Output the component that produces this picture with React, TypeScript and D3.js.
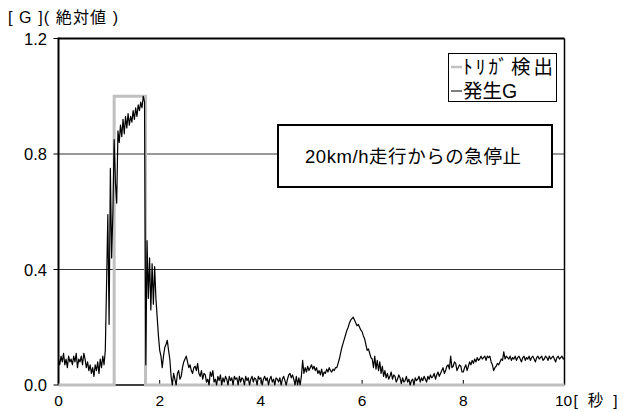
import React from "react";
import * as d3 from "d3";

// Sampling interval of the measured acceleration series (seconds)
const SAMPLE_STEP = 0.025;

// 発生G : measured acceleration magnitude [G], one value per SAMPLE_STEP from 0 to 10 s
const generatedG: number[] = [
  // 0.0 - 0.475
  0.09, 0.07, 0.10, 0.08, 0.11, 0.07, 0.09, 0.06, 0.10, 0.08, 0.09, 0.07, 0.10, 0.08, 0.11, 0.06, 0.09, 0.08, 0.10, 0.07,
  // 0.5 - 0.975
  0.11, 0.09, 0.06, 0.08, 0.05, 0.07, 0.04, 0.06, 0.03, 0.07, 0.05, 0.08, 0.04, 0.09, 0.06, 0.10, 0.07, 0.12, 0.35, 0.59,
  // 1.0 - 1.475
  0.21, 0.75, 0.44, 0.60, 0.85, 0.70, 0.63, 0.88, 0.84, 0.90, 0.86, 0.92, 0.87, 0.93, 0.89, 0.94, 0.90, 0.93, 0.91, 0.95,
  // 1.5 - 1.975
  0.92, 0.96, 0.93, 0.97, 0.95, 0.98, 0.96, 1.00, 0.98, 0.07, 0.50, 0.30, 0.44, 0.26, 0.42, 0.28, 0.41, 0.30, 0.235, 0.17,
  // 2.0 - 2.475
  0.12, 0.10, 0.06, 0.10, 0.13, 0.14, 0.155, 0.12, 0.09, 0.03, 0.00, 0.04, 0.02, 0.00, 0.04, 0.05, 0.02, 0.03, 0.06, 0.08,
  // 2.5 - 2.975
  0.09, 0.10, 0.08, 0.06, 0.07, 0.05, 0.04, 0.06, 0.065, 0.05, 0.075, 0.04, 0.03, 0.05, 0.02, 0.04, 0.035, 0.01, 0.02, 0.00,
  // 3.0 - 3.475
  0.045, 0.03, 0.05, 0.01, 0.02, 0.00, 0.03, 0.015, 0.035, 0.00, 0.025, 0.01, 0.03, 0.02, 0.00, 0.03, 0.015, 0.025, 0.00, 0.03,
  // 3.5 - 3.975
  0.02, 0.025, 0.00, 0.03, 0.01, 0.025, 0.02, 0.00, 0.03, 0.015, 0.025, 0.00, 0.02, 0.03, 0.01, 0.025, 0.02, 0.00, 0.03, 0.02,
  // 4.0 - 4.475
  0.025, 0.00, 0.02, 0.03, 0.015, 0.025, 0.00, 0.02, 0.03, 0.01, 0.02, 0.00, 0.025, 0.02, 0.01, 0.025, 0.00, 0.02, 0.03, 0.015,
  // 4.5 - 4.975
  0.00, 0.02, 0.035, 0.04, 0.025, 0.035, 0.02, 0.00, 0.03, 0.00, 0.025, 0.00, 0.03, 0.085, 0.04, 0.06, 0.045, 0.065, 0.05, 0.06,
  // 5.0 - 5.475
  0.07, 0.055, 0.065, 0.05, 0.06, 0.04, 0.05, 0.035, 0.055, 0.03, 0.045, 0.04, 0.055, 0.045, 0.06, 0.05, 0.045, 0.055, 0.05, 0.06,
  // 5.5 - 5.975
  0.06, 0.075, 0.09, 0.11, 0.13, 0.145, 0.16, 0.175, 0.19, 0.20, 0.215, 0.225, 0.23, 0.235, 0.225, 0.215, 0.205, 0.21, 0.20, 0.19,
  // 6.0 - 6.475
  0.185, 0.17, 0.16, 0.14, 0.12, 0.125, 0.11, 0.095, 0.09, 0.06, 0.10, 0.055, 0.085, 0.05, 0.08, 0.04, 0.065, 0.03, 0.05, 0.025,
  // 6.5 - 6.975
  0.04, 0.02, 0.03, 0.045, 0.02, 0.035, 0.03, 0.01, 0.02, 0.035, 0.025, 0.005, 0.025, 0.01, 0.015, 0.03, 0.01, 0.02, 0.00, 0.015,
  // 7.0 - 7.475
  0.02, 0.00, 0.025, 0.015, 0.02, 0.03, 0.01, 0.025, 0.015, 0.03, 0.02, 0.01, 0.03, 0.02, 0.035, 0.025, 0.03, 0.04, 0.02, 0.035,
  // 7.5 - 7.975
  0.045, 0.03, 0.04, 0.05, 0.06, 0.04, 0.05, 0.065, 0.07, 0.055, 0.10, 0.06, 0.065, 0.08, 0.075, 0.05, 0.06, 0.07, 0.065, 0.045,
  // 8.0 - 8.475
  0.045, 0.06, 0.07, 0.05, 0.065, 0.08, 0.07, 0.085, 0.075, 0.09, 0.08, 0.095, 0.085, 0.09, 0.10, 0.09, 0.095, 0.10, 0.085, 0.10,
  // 8.5 - 8.975
  0.095, 0.10, 0.08, 0.07, 0.05, 0.06, 0.065, 0.075, 0.07, 0.08, 0.09, 0.085, 0.115, 0.09, 0.10, 0.095, 0.09, 0.10, 0.085, 0.095,
  // 9.0 - 9.475
  0.09, 0.10, 0.085, 0.095, 0.10, 0.09, 0.08, 0.095, 0.10, 0.085, 0.095, 0.09, 0.10, 0.085, 0.095, 0.10, 0.09, 0.08, 0.095, 0.10,
  // 9.5 - 9.975
  0.09, 0.095, 0.10, 0.085, 0.09, 0.10, 0.095, 0.085, 0.10, 0.09, 0.095, 0.10, 0.09, 0.08, 0.095, 0.10, 0.09, 0.095, 0.10, 0.09,
  // 10.0
  0.095,
];

// ﾄﾘｶﾞ検出 : trigger detection (step signal)
const triggerTime = [0, 1.1, 1.1, 1.72, 1.72, 10];
const triggerValue = [0, 0, 1, 1, 0, 0];

const xTickValues = [0, 2, 4, 6, 8, 10];
const yTickValues = [0, 0.4, 0.8, 1.2];
const gridValues = [0.4, 0.8];

const legendLabels = ["ﾄﾘｶﾞ検出", "発生G"];
const annotationText = "20km/h走行からの急停止";
const yAxisTitle = "[ G ]( 絶対値 )";
const xAxisUnit = "[ 秒 ]";

const FONT = "'Liberation Sans', Arial, 'Noto Sans CJK JP', sans-serif";

export default function App() {
  const width = 630;
  const height = 412;
  const x = d3.scaleLinear().domain([0, 10]).range([58.5, 564.5]);
  const y = d3.scaleLinear().domain([0, 1.2]).range([385, 38.5]);

  const line = d3
    .line<[number, number]>()
    .x((d) => x(d[0]))
    .y((d) => y(d[1]));

  const gPoints: [number, number][] = generatedG.map((v, i) => [i * SAMPLE_STEP, v]);
  const trigPoints: [number, number][] = triggerTime.map((t, i) => [t, triggerValue[i]]);

  const fmt = d3.format(".1f");
  const [x0, x1] = x.range();
  const [yb, yt] = y.range();

  return (
    <svg
      width={width}
      height={height}
      style={{ position: "absolute", left: 0, top: 0, background: "#fff" }}
      fontFamily={FONT}
    >
      <rect x={0} y={0} width={width} height={height} fill="#fff" />
      {/* grid lines */}
      {gridValues.map((g) => (
        <line key={g} x1={x0} x2={x1} y1={y(g)} y2={y(g)} stroke="#333" strokeWidth={1} />
      ))}
      {/* frame: top, right */}
      <line x1={x0} x2={x1} y1={yt} y2={yt} stroke="#000" strokeWidth={2} />
      <line x1={x1} x2={x1} y1={yt} y2={yb} stroke="#000" strokeWidth={1.5} />
      {/* x axis */}
      <line x1={x0} x2={x1} y1={yb} y2={yb} stroke="#000" strokeWidth={1.5} />
      {/* y axis */}
      <line x1={x0} x2={x0} y1={yt - 1} y2={yb} stroke="#000" strokeWidth={2} />
      {/* y ticks */}
      {yTickValues.map((v) => (
        <g key={v}>
          <line x1={x0 - 5} x2={x0} y1={y(v)} y2={y(v)} stroke="#000" strokeWidth={1} />
          <text x={47} y={y(v) + 6} textAnchor="end" fontSize={16.5}>
            {fmt(v)}
          </text>
        </g>
      ))}
      {/* x ticks */}
      {xTickValues.map((v) => (
        <g key={v}>
          {v > 0 && v < 10 && (
            <line x1={x(v)} x2={x(v)} y1={yb - 5} y2={yb} stroke="#000" strokeWidth={1} />
          )}
          <text x={v === 10 ? x(v) - 1 : x(v)} y={406} textAnchor="middle" fontSize={15.5}>
            {v}
          </text>
        </g>
      ))}
      <text x={x(10) + 9} y={406} fontSize={15.5} textLength={44} lengthAdjust="spacing" xmlSpace="preserve">
        {xAxisUnit}
      </text>
      <text x={8} y={23} fontSize={16} textLength={110} lengthAdjust="spacing" xmlSpace="preserve">
        {yAxisTitle}
      </text>

      {/* series */}
      <path d={line(trigPoints) || ""} fill="none" stroke="#c0c0c0" strokeWidth={3} />
      <path d={line(gPoints) || ""} fill="none" stroke="#000" strokeWidth={1.2} strokeLinejoin="round" />

      {/* annotation box */}
      <rect x={278} y={125} width={274} height={62} fill="#fff" stroke="#000" strokeWidth={2} />
      <text x={305} y={163} fontSize={18.5} textLength={216} lengthAdjust="spacing">
        {annotationText}
      </text>

      {/* legend */}
      <rect x={448.5} y={53.5} width={108} height={48} fill="#fff" stroke="#000" strokeWidth={1} />
      <line x1={451} x2={462} y1={67} y2={67} stroke="#c0c0c0" strokeWidth={2.5} />
      <text x={463} y={74} fontSize={19.5} textLength={90} lengthAdjust="spacing">
        {legendLabels[0]}
      </text>
      <line x1={451} x2={462} y1={91} y2={91} stroke="#000" strokeWidth={1} />
      <text x={463} y={98} fontSize={19.5}>
        {legendLabels[1]}
      </text>
    </svg>
  );
}
